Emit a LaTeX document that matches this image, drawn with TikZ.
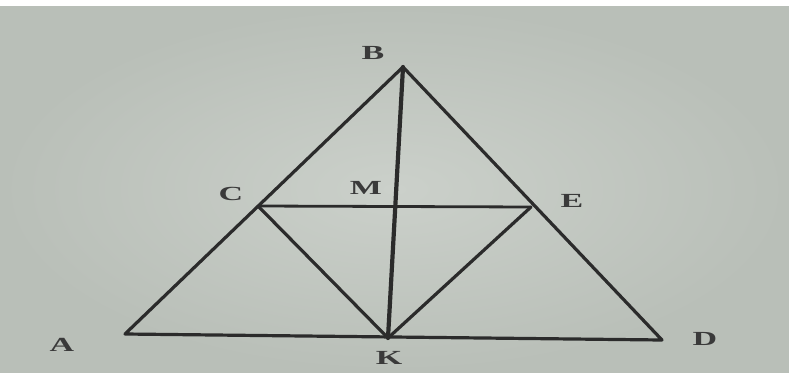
\documentclass[tikz,border=0pt]{standalone}
\usepackage{fontspec}
\setmainfont{Liberation Serif}
\usepackage{graphicx}
\definecolor{bgpaper}{HTML}{CBD0CA}
\definecolor{bgedge}{HTML}{B9BFB8}
\definecolor{inkline}{HTML}{2B2B2B}
\definecolor{inklabel}{HTML}{3A3A3A}
\tikzset{
  seg/.style={draw=inkline, line width=3.2pt, line cap=round, line join=round},
  segthick/.style={draw=inkline, line width=4.2pt, line cap=round},
  lbl/.style={text=inklabel, inner sep=0pt, font=\bfseries\fontsize{20}{20}\selectfont},
  pt/.style={inner sep=0pt, minimum size=0pt}
}
\newcommand{\wide}[1]{\scalebox{1.7}[1]{#1}}
\begin{document}
\begin{tikzpicture}[x=1pt,y=-1pt]
\useasboundingbox (0,0) rectangle (789,372);
\fill[white] (0,0) rectangle (789,6);
\shade[inner color=bgpaper, outer color=bgedge] (0,6) rectangle (789,372);
% vertices
\coordinate (A) at (125,334);
\coordinate (B) at (403,67);
\coordinate (C) at (258,206);
\coordinate (E) at (531,207);
\coordinate (D) at (662,340);
\coordinate (K) at (388,338);
% triangle
\draw[seg] (A) -- (B) -- (D) -- cycle;
\draw[seg, line width=2.8pt] (C) -- (E);
\draw[seg] (C) -- (K) -- (E);
\draw[segthick] (B) -- (K);
% labels
\node[lbl] (lA) at (62,345) {\wide{A}};
\node[lbl] (lB) at (373,53) {\wide{B}};
\node[lbl] (lC) at (231,194) {\wide{C}};
\node[lbl] (lM) at (366,188) {\wide{M}};
\node[lbl] (lE) at (572,201) {\wide{E}};
\node[lbl] (lD) at (705,339) {\wide{D}};
\node[lbl] (lK) at (389,358) {\wide{K}};
\end{tikzpicture}
\end{document}
